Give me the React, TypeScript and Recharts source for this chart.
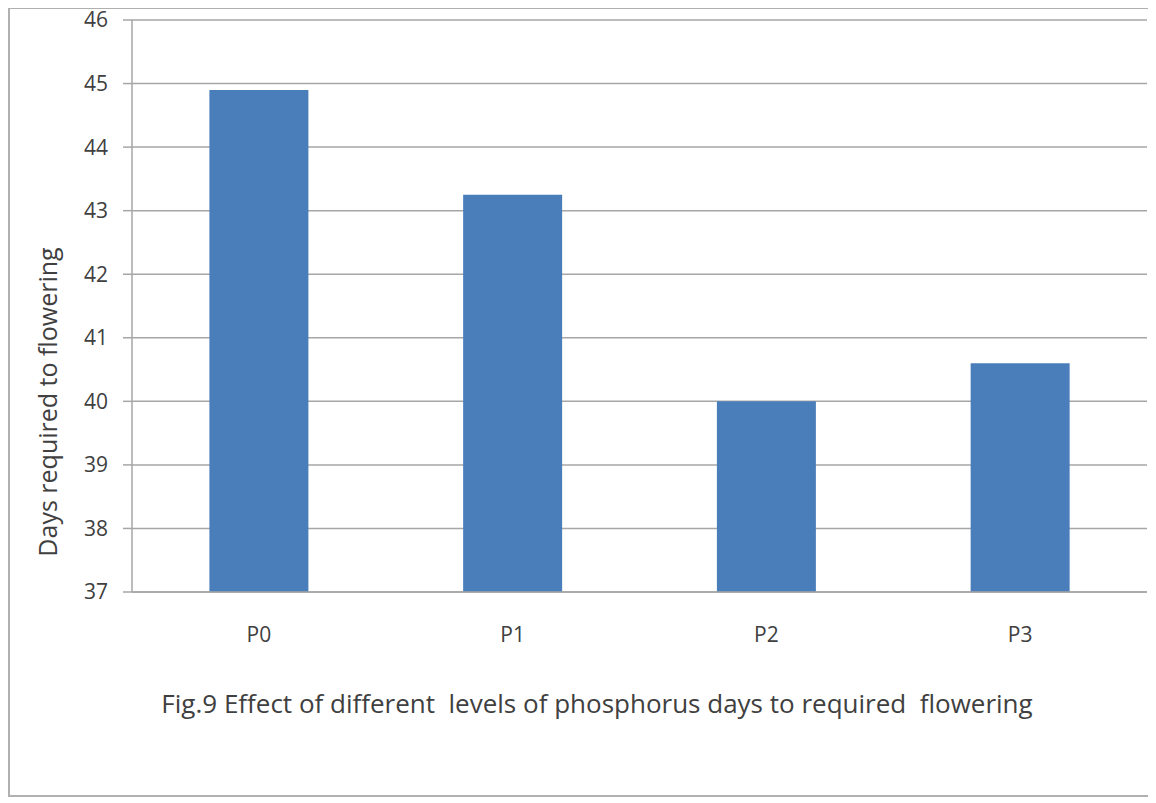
import { BarChart, Bar, XAxis, YAxis, CartesianGrid } from 'recharts'

const categories = ['P0', 'P1', 'P2', 'P3']
const daysToFlowering = [44.9, 43.25, 40.0, 40.6]
const yTicks = [37, 38, 39, 40, 41, 42, 43, 44, 45, 46]
const boundaryTicks = [0, 1, 2, 3, 4]

const chartData = categories.map((name, i) => ({ name, days: daysToFlowering[i] }))

const font = '"Open Sans", "Noto Sans", sans-serif'
const gray = '#a6a6a6'
const textColor = '#404040'

// rotated y title, sits a bit below the middle of the axis like the original
const YTitle = (props: any) => {
  const { viewBox } = props
  const cx = viewBox.x - 25
  const cy = viewBox.y + viewBox.height / 2 + 96
  return (
    <text
      x={cx}
      y={cy}
      transform={`rotate(-90, ${cx}, ${cy})`}
      textAnchor="middle"
      dominantBaseline="central"
      fill={textColor}
      fontSize={25}
      fontFamily={font}
    >
      Days required to flowering
    </text>
  )
}

export default function App() {
  return (
    <div
      style={{
        position: 'relative',
        width: 1144,
        height: 790,
        boxSizing: 'border-box',
        border: '2px solid #b0b0b0',
        marginTop: -1,
        background: '#fff',
        fontFamily: font,
      }}
    >
      <div style={{ position: 'absolute', left: 0, top: -9 }}>
        <BarChart
          width={1140}
          height={795}
          data={chartData}
          margin={{ top: 20, right: 3, left: 62, bottom: 103 }}
          barCategoryGap="30.5%"
        >
          <CartesianGrid vertical={false} stroke={gray} strokeWidth={1.5} />
          <XAxis
            xAxisId="edges"
            type="number"
            dataKey="name"
            domain={[0, 4]}
            ticks={boundaryTicks}
            height={0}
            axisLine={false}
            tickLine={{ stroke: gray, strokeWidth: 1.5 }}
            tickSize={6}
            tick={() => <g />}
            allowDataOverflow
          />
          <XAxis
            dataKey="name"
            height={100}
            axisLine={{ stroke: gray, strokeWidth: 1.5 }}
            tickLine={false}
            tickMargin={29}
            tick={{ fill: textColor, fontSize: 21, fontFamily: font }}
          />
          <YAxis
            width={60}
            domain={[37, 46]}
            ticks={yTicks}
            interval={0}
            axisLine={{ stroke: gray, strokeWidth: 1.5 }}
            tickLine={{ stroke: gray, strokeWidth: 1.5 }}
            tickSize={9}
            tickMargin={15}
            tick={{ fill: textColor, fontSize: 21, fontFamily: font }}
            label={<YTitle />}
          />
          <Bar dataKey="days" fill="#4a7ebb" isAnimationActive={false} />
        </BarChart>
      </div>
      <div
        style={{
          position: 'absolute',
          left: 0,
          width: 1174,
          top: 676,
          textAlign: 'center',
          color: textColor,
          fontSize: 26,
          whiteSpace: 'pre',
        }}
      >
        {'Fig.9 Effect of different  levels of phosphorus days to required  flowering'}
      </div>
    </div>
  )
}
